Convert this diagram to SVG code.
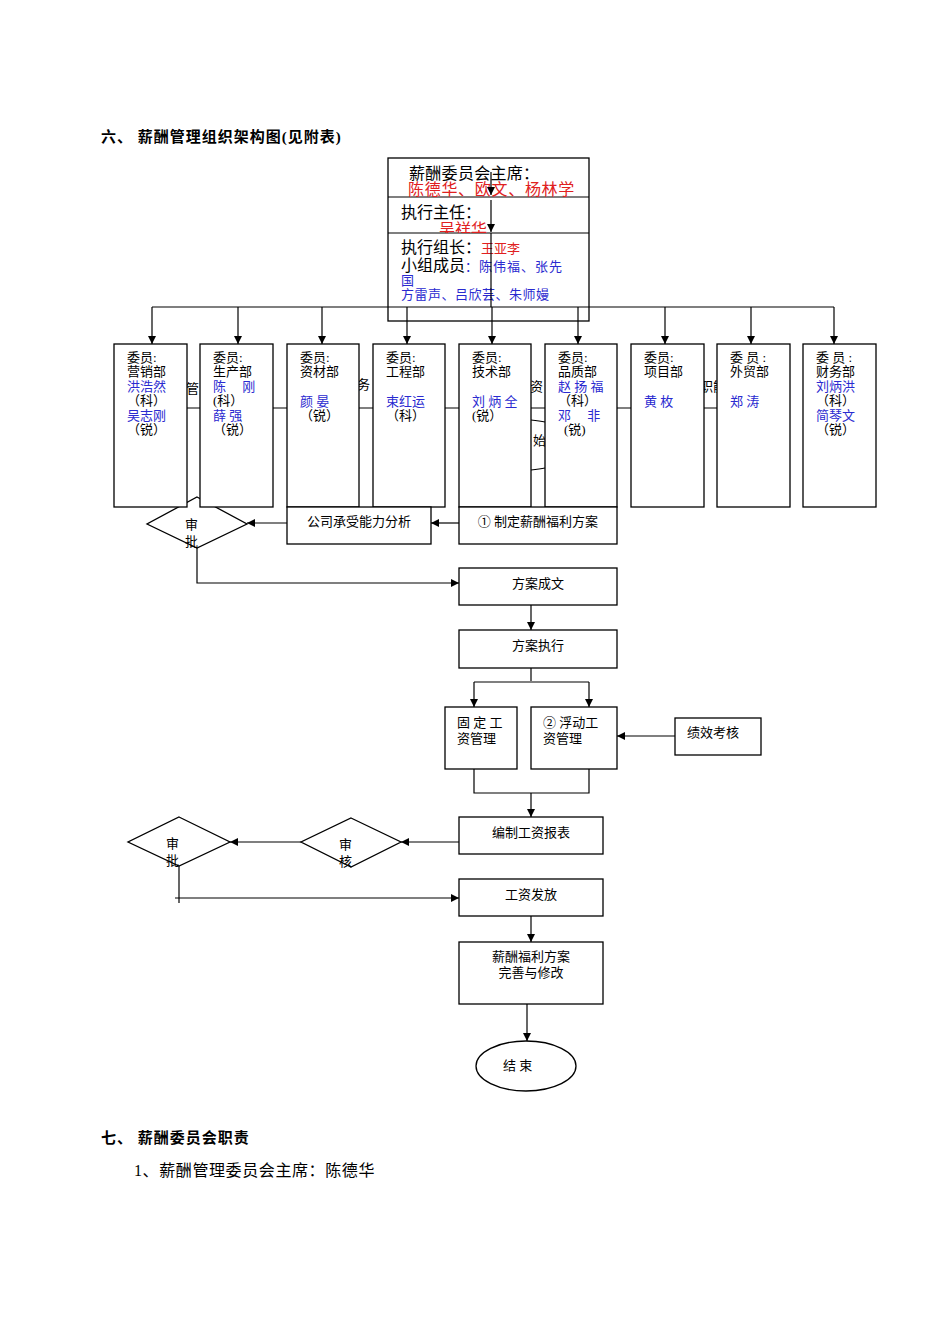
<svg xmlns="http://www.w3.org/2000/svg" width="950" height="1344" viewBox="0 0 950 1344">
<style>
text{font-family:"Liberation Serif","Noto Sans CJK SC",serif;font-size:13px;fill:#000}
.b{fill:#fff;stroke:#000;stroke-width:1.3}
.l{fill:none;stroke:#000;stroke-width:1.2}
.r{fill:#e02020}.u{fill:#2a2ad0}
.h{font-weight:bold;font-size:15px;letter-spacing:1px}
.c{text-anchor:middle}
</style>
<defs>
<marker id="a" viewBox="0 0 10 10" refX="10" refY="5" markerWidth="8" markerHeight="8" markerUnits="userSpaceOnUse" orient="auto"><path d="M0,0L10,5L0,10z"/></marker>
<clipPath id="cp"><rect x="388" y="197" width="201" height="36"/></clipPath>
</defs>
<rect width="950" height="1344" fill="#fff"/>
<text class="h" x="101" y="142">六、 薪酬管理组织架构图(见附表)</text>
<text class="h" x="101" y="1143">七、 薪酬委员会职责</text>
<text x="134" y="1176" style="font-size:16px;letter-spacing:0.6px">1、薪酬管理委员会主席：陈德华</text>

<g id="hidden">
<text x="186" y="393">管</text><text x="357" y="389">务</text><text x="530" y="391">资</text><text x="533" y="445">始</text><text x="700" y="391">职能</text>
<path class="l" d="M187,408H200M273,408H287M359,408H373M445,408H459M531,408H545M617,408H631M704,408H717M531,420Q540,421 545,422M531,470Q540,469 545,468"/>
</g>

<g id="d1"><path class="b" d="M197,497L247,524L197,548L147,524Z"/><text x="185" y="529">审</text><text x="185" y="546">批</text></g>

<g id="top">
<rect class="b" x="388" y="158" width="201" height="163"/>
<line class="l" x1="388" y1="197" x2="589" y2="197"/><line class="l" x1="388" y1="233" x2="589" y2="233"/>
<text x="409" y="179" style="font-size:16px;letter-spacing:0.3px">薪酬委员会主席：</text>
<text class="r" x="408" y="195" style="font-size:16px;letter-spacing:0.7px">陈德华、欧文、杨林学</text>
<text x="401" y="218" style="font-size:16px">执行主任：</text>
<text class="r" x="439" y="235" style="font-size:16px" clip-path="url(#cp)">吴祥华</text>
<text x="401" y="253" style="font-size:16px">执行组长：<tspan class="r" style="font-size:13px">王亚李</tspan></text>
<text x="401" y="271" style="font-size:16px">小组成员<tspan class="u" style="font-size:13px;letter-spacing:1px">：陈伟福、张先</tspan></text>
<text class="u" x="401" y="285">国</text>
<text class="u" x="401" y="299" style="letter-spacing:0.5px">方雷声、吕欣芸、朱师嫚</text>
</g>

<g id="dept1"><rect class="b" x="114" y="344" width="73" height="163"/><text x="127" y="362">委员:</text><text x="127" y="376">营销部</text><text class="u" x="127" y="391">洪浩然</text><text x="127" y="405">（科）</text><text class="u" x="127" y="420">吴志刚</text><text x="127" y="434">（锐）</text></g>
<g id="dept2"><rect class="b" x="200" y="344" width="73" height="163"/><text x="213" y="362">委员:</text><text x="213" y="376">生产部</text><text class="u" x="213" y="391">陈　 刚</text><text x="213" y="405">(科）</text><text class="u" x="213" y="420">薛 强</text><text x="213" y="434">（锐）</text></g>
<g id="dept3"><rect class="b" x="287" y="344" width="72" height="163"/><text x="300" y="362">委员:</text><text x="300" y="376">资材部</text><text class="u" x="300" y="406">颜 晏</text><text x="300" y="420">（锐）</text></g>
<g id="dept4"><rect class="b" x="373" y="344" width="72" height="163"/><text x="386" y="362">委员:</text><text x="386" y="376">工程部</text><text class="u" x="386" y="406">束红运</text><text x="386" y="420">（科）</text></g>
<g id="dept5"><rect class="b" x="459" y="344" width="72" height="163"/><text x="472" y="362">委员:</text><text x="472" y="376">技术部</text><text class="u" x="472" y="406">刘 炳 全</text><text x="472" y="420">(锐）</text></g>
<g id="dept6"><rect class="b" x="545" y="344" width="72" height="163"/><text x="558" y="362">委员:</text><text x="558" y="376">品质部</text><text class="u" x="558" y="391">赵 扬 福</text><text x="558" y="405">（科）</text><text class="u" x="558" y="420">邓　 非</text><text x="564" y="434">(锐)</text></g>
<g id="dept7"><rect class="b" x="631" y="344" width="73" height="163"/><text x="644" y="362">委员:</text><text x="644" y="376">项目部</text><text class="u" x="644" y="406">黄 枚</text></g>
<g id="dept8"><rect class="b" x="717" y="344" width="73" height="163"/><text x="730" y="362">委 员 :</text><text x="730" y="376">外贸部</text><text class="u" x="730" y="406">郑 涛</text></g>
<g id="dept9"><rect class="b" x="803" y="344" width="73" height="163"/><text x="816" y="362">委 员 :</text><text x="816" y="376">财务部</text><text class="u" x="816" y="391">刘炳洪</text><text x="816" y="405">（科）</text><text class="u" x="816" y="420">简琴文</text><text x="816" y="434">（锐）</text></g>

<g id="n1"><rect class="b" x="287" y="507" width="144" height="37"/><text class="c" x="359" y="526">公司承受能力分析</text></g>
<g id="n2"><rect class="b" x="459" y="507" width="158" height="37"/><text class="c" x="538" y="526">① 制定薪酬福利方案</text></g>
<g id="n3"><rect class="b" x="459" y="568" width="158" height="37"/><text class="c" x="538" y="588">方案成文</text></g>
<g id="n4"><rect class="b" x="459" y="630" width="158" height="38"/><text class="c" x="538" y="650">方案执行</text></g>
<g id="n5"><rect class="b" x="445" y="707" width="72" height="62"/><text x="457" y="727">固 定 工</text><text x="457" y="743">资管理</text></g>
<g id="n6"><rect class="b" x="531" y="707" width="86" height="62"/><text x="543" y="727">② 浮动工</text><text x="543" y="743">资管理</text></g>
<g id="n7"><rect class="b" x="675" y="718" width="86" height="37"/><text x="687" y="737">绩效考核</text></g>
<g id="n8"><rect class="b" x="459" y="817" width="144" height="37"/><text class="c" x="531" y="837">编制工资报表</text></g>
<g id="d2"><path class="b" d="M351,818L401,842L351,867L301,842Z"/><text x="339" y="849">审</text><text x="339" y="866">核</text></g>
<g id="d3"><path class="b" d="M179,817L230,842L179,866L128,842Z"/><text x="166" y="848">审</text><text x="166" y="865">批</text></g>
<g id="n9"><rect class="b" x="459" y="879" width="144" height="37"/><text class="c" x="531" y="899">工资发放</text></g>
<g id="n10"><rect class="b" x="459" y="942" width="144" height="62"/><text class="c" x="531" y="961">薪酬福利方案</text><text class="c" x="531" y="977">完善与修改</text></g>
<g id="n11"><ellipse class="b" cx="526" cy="1066" rx="50" ry="25"/><text x="503" y="1070">结  束</text></g>

<g id="connectors">
<path class="l" d="M491,172V195" marker-end="url(#a)"/>
<path class="l" d="M491,200V232" marker-end="url(#a)"/>
<path class="l" d="M491,233V307"/>
<path class="l" d="M152,307H834"/>
<path class="l" d="M152,307V344" marker-end="url(#a)"/>
<path class="l" d="M238,307V344" marker-end="url(#a)"/>
<path class="l" d="M322,307V344" marker-end="url(#a)"/>
<path class="l" d="M407,307V344" marker-end="url(#a)"/>
<path class="l" d="M492,307V344" marker-end="url(#a)"/>
<path class="l" d="M578,307V344" marker-end="url(#a)"/>
<path class="l" d="M665,307V344" marker-end="url(#a)"/>
<path class="l" d="M751,307V344" marker-end="url(#a)"/>
<path class="l" d="M834,307V344" marker-end="url(#a)"/>
<path class="l" d="M459,523H431" marker-end="url(#a)"/>
<path class="l" d="M287,523H247" marker-end="url(#a)"/>
<path class="l" d="M197,548V583H459" marker-end="url(#a)"/>
<path class="l" d="M531,605V630" marker-end="url(#a)"/>
<path class="l" d="M531,668V681"/>
<path class="l" d="M474,682H589"/>
<path class="l" d="M474,682V707" marker-end="url(#a)"/>
<path class="l" d="M589,682V707" marker-end="url(#a)"/>
<path class="l" d="M675,736H617" marker-end="url(#a)"/>
<path class="l" d="M474,769V793H589V769"/>
<path class="l" d="M531,793V817" marker-end="url(#a)"/>
<path class="l" d="M459,842H401" marker-end="url(#a)"/>
<path class="l" d="M301,842H230" marker-end="url(#a)"/>
<path class="l" d="M179,866V903"/>
<path class="l" d="M175,898H459" marker-end="url(#a)"/>
<path class="l" d="M531,916V942" marker-end="url(#a)"/>
<path class="l" d="M527,1004V1041" marker-end="url(#a)"/>
</g>
</svg>
